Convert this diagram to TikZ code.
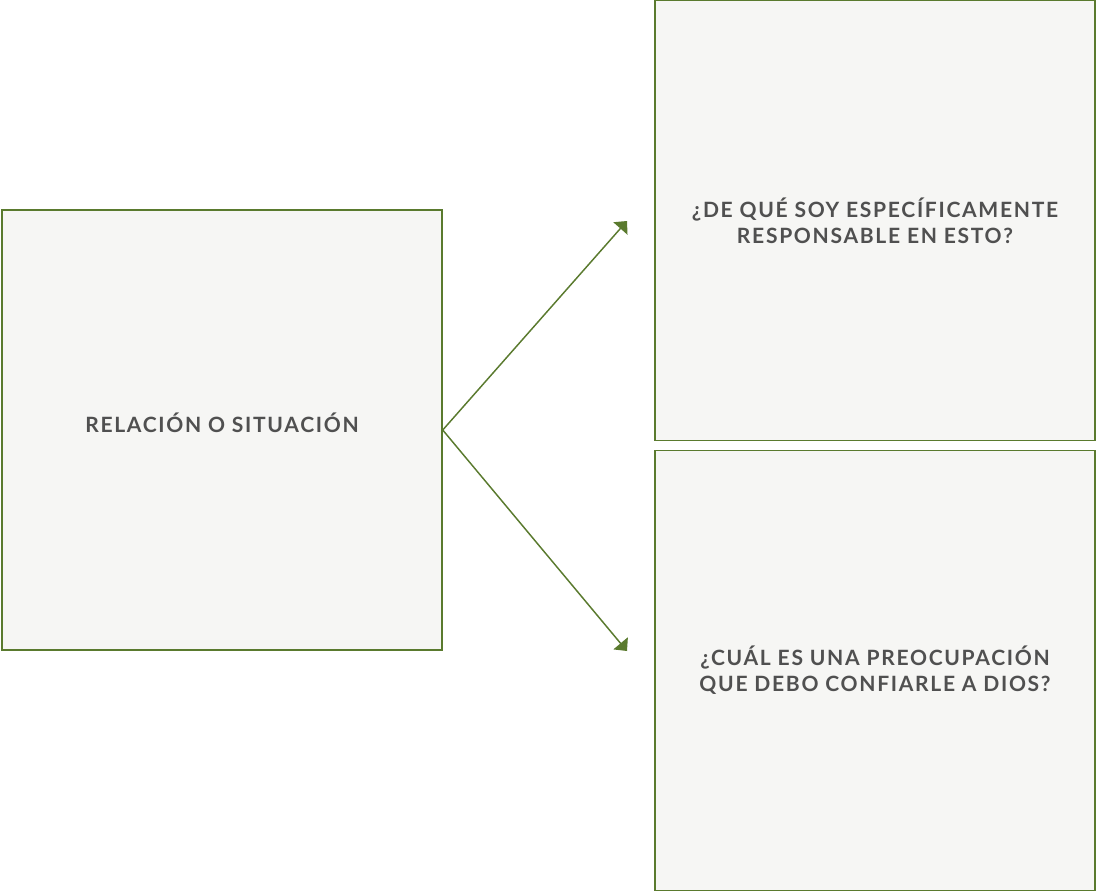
\documentclass[tikz,border=0pt]{standalone}
\usepackage{fontspec}
\setmainfont{Lato}[LetterSpace=8]
\usetikzlibrary{arrows.meta}
\definecolor{leaf}{HTML}{5A7A2E}
\definecolor{paper}{HTML}{F6F6F4}
\definecolor{ink}{HTML}{505050}
\tikzset{
	card/.style={draw=leaf,line width=1.1pt,fill=paper,minimum width=330pt,minimum height=330pt,
		text=ink,font=\fontsize{15.8}{19.5}\selectfont\bfseries,align=center,inner sep=0pt},
	link/.style={draw=leaf,line width=1.1pt,-{Triangle[length=7.5pt,width=14pt]}}
}
\begin{document}
\begin{tikzpicture}[x=0.75pt,y=-0.75pt]
	\useasboundingbox (0,0) rectangle (1096,893);
	\node[card] (rel) at (222,430) {RELACIÓN O SITUACIÓN\\[-9pt]};
	\node[card] (resp) at (875,220.5) {¿DE QUÉ SOY ESPECÍFICAMENTE\\RESPONSABLE EN ESTO?};
	\node[card] (preo) at (875,670.5) {¿CUÁL ES UNA PREOCUPACIÓN\\QUE DEBO CONFIARLE A DIOS?};
	\coordinate (up) at (627,221);
	\coordinate (down) at (627,651);
	\path
	(rel.east) edge[link] (up)
	(rel.east) edge[link] (down)
	;
\end{tikzpicture}
\end{document}
